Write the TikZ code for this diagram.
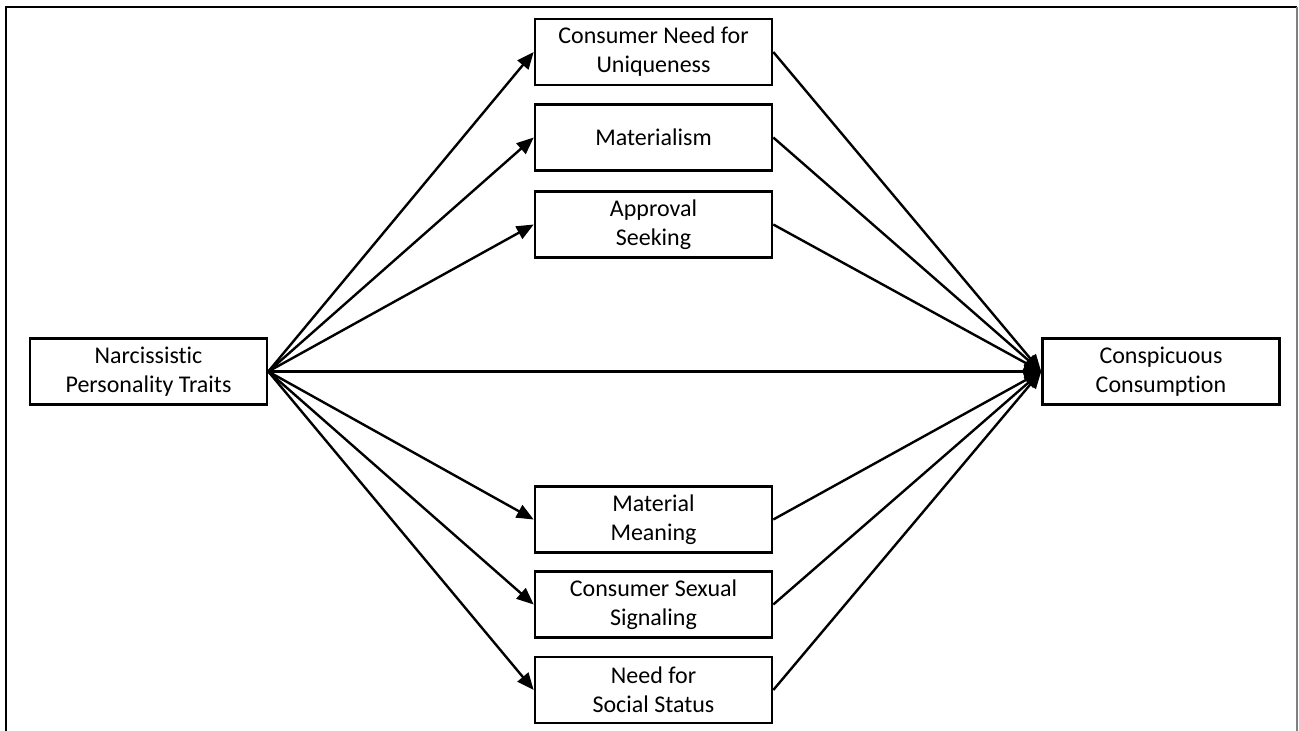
\documentclass[tikz,border=0pt]{standalone}
\usepackage{fontspec}
\setmainfont[Ligatures=NoCommon]{Carlito}
\usetikzlibrary{arrows.meta}
\begin{document}
\begin{tikzpicture}[x=1pt,y=-1pt,
  box/.style={draw, line width=2.6pt, minimum width=237pt, minimum height=66pt, align=center,
    font=\fontsize{24}{29}\selectfont, inner sep=0pt},
  conn/.style={line width=2.4pt, -{Triangle[length=17pt,width=14pt]}},
  frame/.style={line width=1.6pt}]
\useasboundingbox (0,0) rectangle (1299,731);
\draw[frame] (6,731) -- (6,7) -- (1297,7);
\draw[frame, gray] (1297,7) -- (1297,731);

\node[box] (L) at (148.5,371.5) {Narcissistic\\Personality Traits};
\node[box] (R) at (1161,371.5) {Conspicuous\\Consumption};
\node[box] (M1) at (653.5,52) {Consumer Need for\\Uniqueness};
\node[box] (M2) at (653.5,137.5) {Materialism};
\node[box] (M3) at (653.5,224.5) {Approval\\Seeking};
\node[box] (M4) at (653.5,519.5) {Material\\Meaning};
\node[box] (M5) at (653.5,604.5) {Consumer Sexual\\Signaling};
\node[box] (M6) at (653.5,690) {Need for\\Social Status};

\foreach \m in {M1,M2,M3,M4,M5,M6} {
  \draw[conn] (L.east) -- (\m.west);
  \draw[conn] (\m.east) -- (R.west);
}
\draw[conn] (L.east) -- (R.west);
\end{tikzpicture}
\end{document}
